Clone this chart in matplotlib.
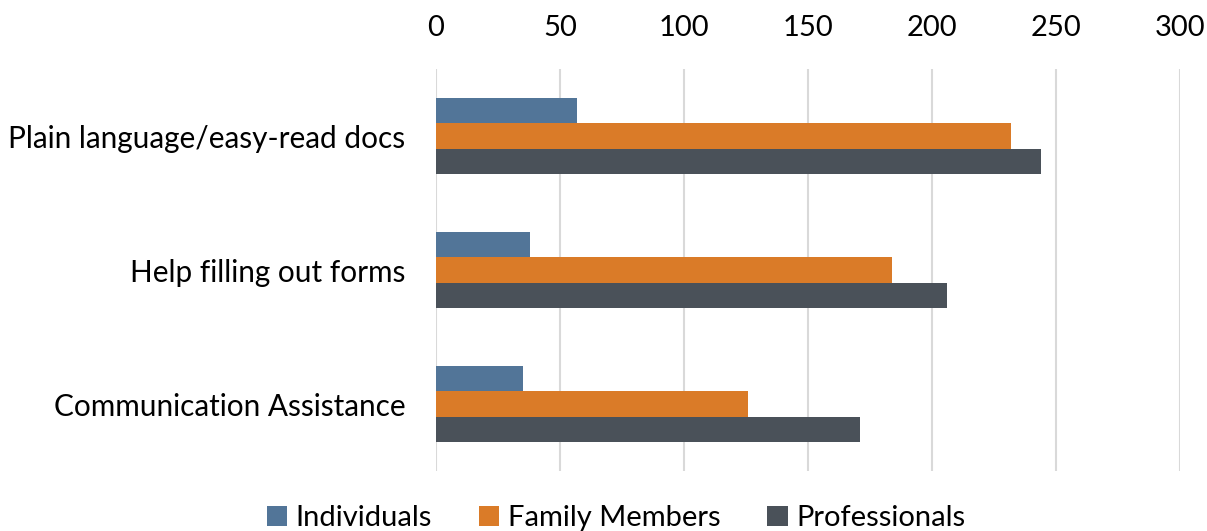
import numpy as np
import matplotlib.pyplot as plt

categories = ["Plain language/easy-read docs", "Help filling out forms", "Communication Assistance"]
series_names = ["Individuals", "Family Members", "Professionals"]
individuals = [57, 38, 35]
family_members = [232, 184, 126]
professionals = [244, 206, 171]
ticks = [0, 50, 100, 150, 200, 250, 300]

colors = ["#527598", "#DA7B28", "#4A5159"]
plt.rcParams['font.family'] = ['Lato', 'DejaVu Sans']

fig = plt.figure(figsize=(12.07, 5.31), dpi=100)
ax = fig.add_axes([436 / 1207, 1 - 471 / 531, 744 / 1207, 402 / 531])

y = np.arange(len(categories))
h = 0.19
for i, (vals, name) in enumerate(zip([individuals, family_members, professionals], series_names)):
    ax.barh(y + (i - 1) * h, vals, height=h, color=colors[i], label=name, zorder=3)

ax.set_xlim(0, 300)
ax.set_ylim(2.5, -0.5)
ax.set_xticks(ticks)
ax.set_yticks(y)
ax.set_yticklabels(categories)
ax.xaxis.tick_top()
ax.tick_params(axis='x', length=0, pad=20, labelsize=21, colors='black')
ax.tick_params(axis='y', length=0, pad=22, labelsize=21.4)
ax.grid(axis='x', color='#D9D9D9', linewidth=1.5, zorder=0)
for s in ax.spines.values():
    s.set_visible(False)

fig.legend(loc='center', bbox_to_anchor=(616 / 1207, 1 - 518 / 531), ncol=3, frameon=False,
           fontsize=21, handlelength=0.7, handleheight=0.7, handletextpad=0.3, columnspacing=1.6)

fig.savefig("out.png", dpi=100)
